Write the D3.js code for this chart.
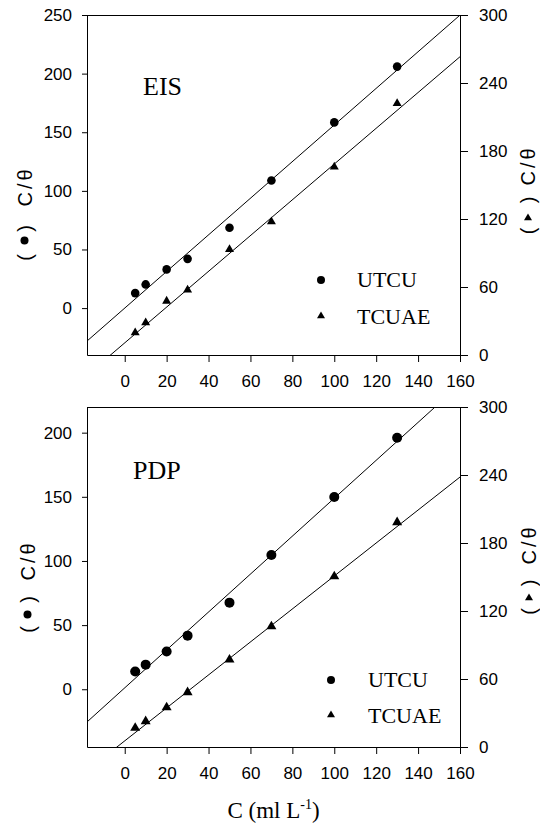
<!DOCTYPE html>
<html><head><meta charset="utf-8">
<script src="https://cdn.jsdelivr.net/npm/d3@7"></script>
<style>body{margin:0;background:#fff} svg{display:block}</style>
</head><body><script>
// ---------- data ----------
const concentrations = [5, 10, 20, 30, 50, 70, 100, 130];
const seriesNames = ["UTCU", "TCUAE"];
const panelNames = ["EIS", "PDP"];
const eisUTCU = [12.8, 20.2, 33, 42, 68.5, 108.8, 158.4, 206];
const eisTCUAE = [19.7, 28.5, 47.6, 57.4, 93.2, 117.6, 166, 222];
const pdpUTCU = [13.8, 19.2, 29.4, 41.8, 67.5, 104.6, 149.8, 196];
const pdpTCUAE = [16.8, 22.6, 34.9, 48.2, 77, 106.4, 150.5, 198.2];
// fitted straight lines [slope, intercept]
const eisFitUTCU = [1.562, 0.0];
const eisFitTCUAE = [1.578, 10.7];
const pdpFitUTCU = [1.478, 1.1];
const pdpFitTCUAE = [1.455, 5.4];
const xTicks = [0, 20, 40, 60, 80, 100, 120, 140, 160];
const eisLeftTicks = [0, 50, 100, 150, 200, 250];
const pdpLeftTicks = [0, 50, 100, 150, 200];
const rightTicks = [0, 60, 120, 180, 240, 300];
const xDomain = [-18, 160];
const eisLeftDomain = [-40, 250];
const pdpLeftDomain = [-45, 220];
const rightDomain = [0, 300];
const xTitleMain = "C (ml L";
const xTitleSup = "-1";
const xTitleEnd = ")";
const yTitle = "C/\u03B8";

// ---------- layout ----------
const W = 540, H = 827;
const L = 87, R = 460, PH = 340;
const SANS = "'Liberation Sans', Arial, sans-serif";
const SERIF = "'Liberation Serif', 'Times New Roman', serif";

const svg = d3.select("body").append("svg").attr("width", W).attr("height", H);

const panels = [
  { name: panelNames[0], top: 15, leftDomain: eisLeftDomain, leftTicks: eisLeftTicks,
    circ: eisUTCU, tri: eisTCUAE, fitC: eisFitUTCU, fitT: eisFitTCUAE, r: 4.3, tw: 9,
    nameX: 143, nameY: 95, legX: 321, legY: [280, 316], legTextX: 357, legBase: [287, 324],
    lab: { left: { x: 24.5, text: 185, close: 228.5, mark: 240.5, open: 257.5 },
           right: { x: 528, text: 164, close: 200, mark: 218, open: 231 } } },
  { name: panelNames[1], top: 407, leftDomain: pdpLeftDomain, leftTicks: pdpLeftTicks,
    circ: pdpUTCU, tri: pdpTCUAE, fitC: pdpFitUTCU, fitT: pdpFitTCUAE, r: 5, tw: 10,
    nameX: 133, nameY: 479, legX: 331, legY: [680, 715], legTextX: 368, legBase: [687, 723],
    lab: { left: { x: 27.5, text: 559, close: 599.5, mark: 614.5, open: 629.5 },
           right: { x: 529, text: 543, close: 583, mark: 598, open: 611.5 } } }
];

const x = d3.scaleLinear().domain(xDomain).range([L, R]);

function styleAxis(g) {
  g.selectAll("path.domain").attr("stroke", "#000").attr("stroke-width", 1);
  g.selectAll(".tick line").attr("stroke", "#000").attr("stroke-width", 1);
  g.selectAll(".tick text").attr("font-family", SANS).attr("font-size", 17).attr("fill", "#000");
  g.attr("font-family", SANS).attr("font-size", 17);
}

function triPath(w) {
  return d3.symbol(d3.symbolTriangle, Math.sqrt(3) / 4 * w * w)();
}

function rotText(g, cx, cy, txt, size, family, spacing) {
  const t = g.append("text").attr("transform", `translate(${cx},${cy}) rotate(-90)`)
    .attr("text-anchor", "middle").attr("dominant-baseline", "central")
    .attr("font-family", family).attr("font-size", size).attr("fill", "#000").text(txt);
  if (spacing) t.attr("letter-spacing", spacing);
  return t;
}

function yLabel(g, p, isCircle) {
  rotText(g, p.x, p.text + 1.5, yTitle, 20, SANS, 3);
  rotText(g, p.x, p.close, ")", 20, SANS);
  rotText(g, p.x, p.open, "(", 20, SANS);
  if (isCircle) {
    g.append("circle").attr("cx", p.x).attr("cy", p.mark).attr("r", 4).attr("fill", "#000");
  } else {
    g.append("path").attr("d", triPath(8)).attr("transform", `translate(${p.x},${p.mark})`).attr("fill", "#000");
  }
}

panels.forEach((pn, i) => {
  const top = pn.top, bot = pn.top + PH;
  const yL = d3.scaleLinear().domain(pn.leftDomain).range([bot, top]);
  const yR = d3.scaleLinear().domain(rightDomain).range([bot, top]);
  const g = svg.append("g");

  const clipId = "clip" + i;
  svg.append("clipPath").attr("id", clipId).append("rect")
    .attr("x", L).attr("y", top).attr("width", R - L).attr("height", PH);

  // fitted lines
  const lineC = d3.line().x(d => x(d)).y(d => yL(pn.fitC[0] * d + pn.fitC[1]));
  const lineT = d3.line().x(d => x(d)).y(d => yR(pn.fitT[0] * d + pn.fitT[1]));
  g.append("path").datum(xDomain).attr("d", lineC).attr("fill", "none").attr("stroke", "#000")
    .attr("stroke-width", 1).attr("clip-path", `url(#${clipId})`);
  g.append("path").datum(xDomain).attr("d", lineT).attr("fill", "none").attr("stroke", "#000")
    .attr("stroke-width", 1).attr("clip-path", `url(#${clipId})`);

  // points
  g.selectAll("circle.pt").data(concentrations).join("circle").attr("class", "pt")
    .attr("cx", d => x(d)).attr("cy", (d, j) => yL(pn.circ[j])).attr("r", pn.r).attr("fill", "#000");
  g.selectAll("path.tri").data(concentrations).join("path").attr("class", "tri")
    .attr("d", triPath(pn.tw))
    .attr("transform", (d, j) => `translate(${x(d)},${yR(pn.tri[j])})`).attr("fill", "#000");

  // axes
  const gx = g.append("g").attr("transform", `translate(0,${bot})`)
    .call(d3.axisBottom(x).tickValues(xTicks).tickSize(7).tickPadding(13).tickSizeOuter(0));
  styleAxis(gx);
  const gl = g.append("g").attr("transform", `translate(${L},0)`)
    .call(d3.axisLeft(yL).tickValues(pn.leftTicks).tickSize(5).tickPadding(10).tickSizeOuter(0));
  styleAxis(gl);
  const gr = g.append("g").attr("transform", `translate(${R},0)`)
    .call(d3.axisRight(yR).tickValues(rightTicks).tickSize(8).tickPadding(11).tickSizeOuter(0));
  styleAxis(gr);
  g.append("line").attr("x1", L).attr("x2", R + 0.5).attr("y1", top + 0.5).attr("y2", top + 0.5)
    .attr("stroke", "#000").attr("stroke-width", 1);

  // panel name
  g.append("text").attr("x", pn.nameX).attr("y", pn.nameY).attr("font-family", SERIF)
    .attr("font-size", 26).attr("fill", "#000").text(pn.name);

  // legend
  g.append("circle").attr("cx", pn.legX).attr("cy", pn.legY[0]).attr("r", 4).attr("fill", "#000");
  g.append("path").attr("d", triPath(8)).attr("transform", `translate(${pn.legX},${pn.legY[1]})`).attr("fill", "#000");
  seriesNames.forEach((s, k) => {
    g.append("text").attr("x", pn.legTextX).attr("y", pn.legBase[k]).attr("font-family", SERIF)
      .attr("font-size", 22).attr("fill", "#000").text(s);
  });

  // axis titles
  yLabel(g.append("g"), pn.lab.left, true);
  yLabel(g.append("g"), pn.lab.right, false);
});

// x title
const xt = svg.append("text").attr("x", (L + R) / 2).attr("y", 818).attr("text-anchor", "middle")
  .attr("font-family", SERIF).attr("font-size", 23).attr("fill", "#000");
xt.append("tspan").text(xTitleMain);
xt.append("tspan").attr("font-size", 14).attr("dy", -9).text(xTitleSup);
xt.append("tspan").attr("dy", 9).text(xTitleEnd);
</script></body></html>
